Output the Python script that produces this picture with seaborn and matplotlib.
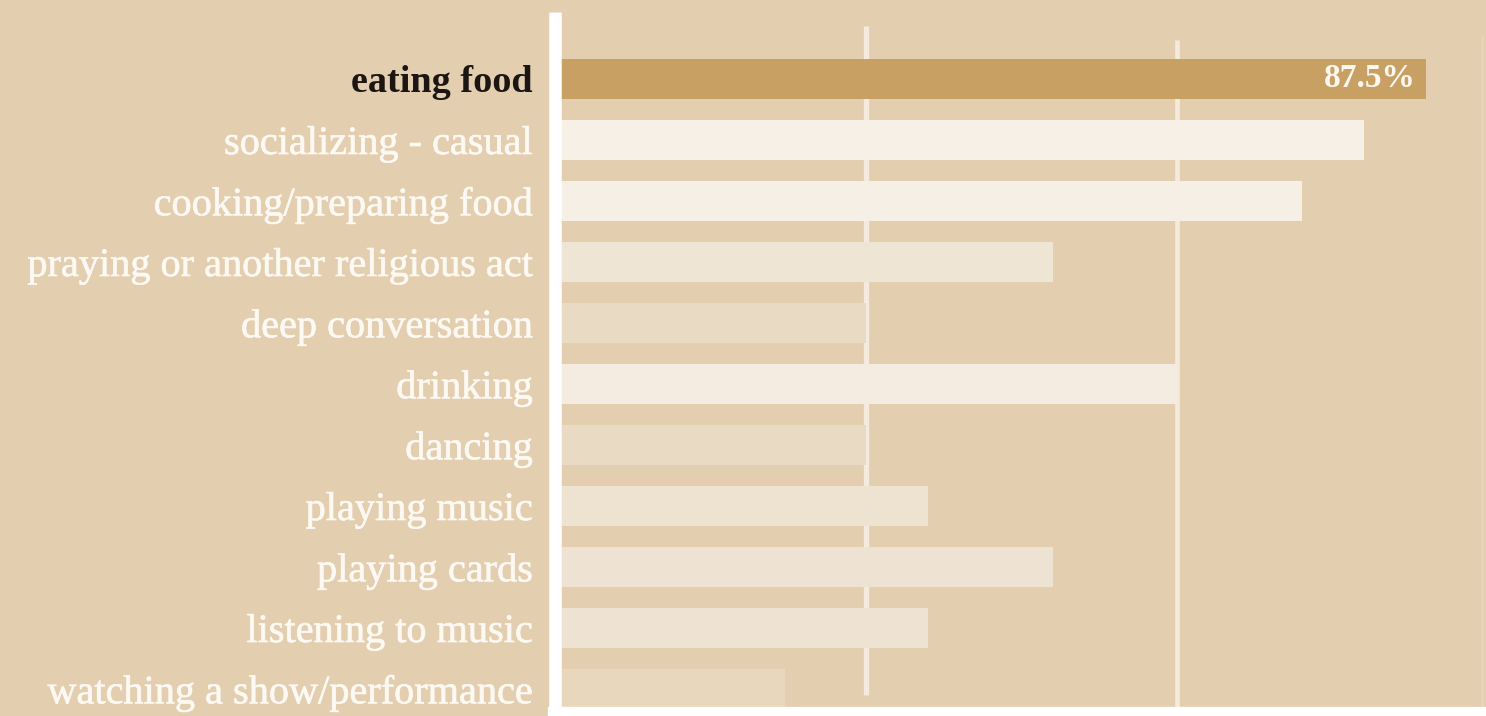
import matplotlib
matplotlib.use("Agg")
import matplotlib.pyplot as plt
from matplotlib.patches import Rectangle
import matplotlib.patheffects as pe
import seaborn as sns
import pandas as pd

# Share of respondents doing each activity (%)
activities = [
    "eating food",
    "socializing - casual",
    "cooking/preparing food",
    "praying or another religious act",
    "deep conversation",
    "drinking",
    "dancing",
    "playing music",
    "playing cards",
    "listening to music",
    "watching a show/performance",
]
shares = [87.5, 81.25, 75.0, 50.0, 31.25, 62.5, 31.25, 37.5, 50.0, 37.5, 23.1]
highlight = "eating food"
highlight_label = "87.5%"

BG = "#e3ceb0"
bar_colors = [
    "#c9a063",  # highlighted
    "#f7f0e6",
    "#f6efe5",
    "#efe5d5",
    "#e9dbc3",
    "#f4ece1",
    "#e9dbc3",
    "#eee3d1",
    "#eee3d2",
    "#eee3d2",
    "#e8d7bc",
]
label_colors = ["#1b1612"] + ["#fcf8f2"] * 10

sns.set_theme(style="white")
plt.rcParams["font.family"] = ["Liberation Serif", "DejaVu Serif"]

W, H = 1486, 716
fig = plt.figure(figsize=(W / 100, H / 100), dpi=100, facecolor=BG)
ax = fig.add_axes([555 / W, 9 / H, (W - 555) / W, 707 / H])
ax.set_facecolor(BG)

df = pd.DataFrame({"activity": activities, "share": shares})
sns.barplot(
    data=df, y="activity", x="share", hue="activity",
    palette=dict(zip(activities, bar_colors)), legend=False,
    saturation=1, width=0.66, orient="h", ax=ax, zorder=2,
    linewidth=0, edgecolor="none",
)

ax.set_xlim(0, 93.5)
ax.set_ylim(10.295, -1.295)

# light vertical guides
ax.axvline(31.25, ymin=12 / 707, ymax=(707 - 26) / 707, color="#f4eadd", lw=3.8,
           zorder=1, solid_capstyle="butt")
ax.axvline(62.5, ymin=0, ymax=(707 - 40) / 707, color="#f4eadd", lw=3.4,
           zorder=1, solid_capstyle="butt")
ax.axvline(93.1, ymin=0, ymax=(707 - 35) / 707, color="#e8d5b9", lw=2.0,
           zorder=1, solid_capstyle="butt")

# white baseline on the left and strip along the bottom
ax.axvline(0, ymin=-0.02, ymax=(707 - 12) / 707, color="white", lw=9,
           clip_on=False, zorder=5, solid_capstyle="butt")
fig.patches.append(Rectangle((548 / W, 0), 1 - 548 / W, 9 / H,
                             transform=fig.transFigure, color="white", zorder=5))

for s in ax.spines.values():
    s.set_visible(False)
ax.set_xlabel("")
ax.set_ylabel("")
ax.set_xticks([])
ax.tick_params(axis="y", length=0, pad=16, labelsize=29)
for lbl, c in zip(ax.get_yticklabels(), label_colors):
    lbl.set_color(c)
    if lbl.get_text() == highlight:
        lbl.set_fontweight("bold")
        lbl.set_fontsize(27.5)
    else:
        lbl.set_path_effects([pe.withStroke(linewidth=0.5, foreground=c)])

hi = activities.index(highlight)
ax.text(shares[hi] - 1.1, hi, highlight_label, ha="right", va="center",
        color="#fdf8ef", fontsize=24, fontweight="bold", zorder=6)

fig.savefig("out.png", dpi=100, facecolor=BG)
